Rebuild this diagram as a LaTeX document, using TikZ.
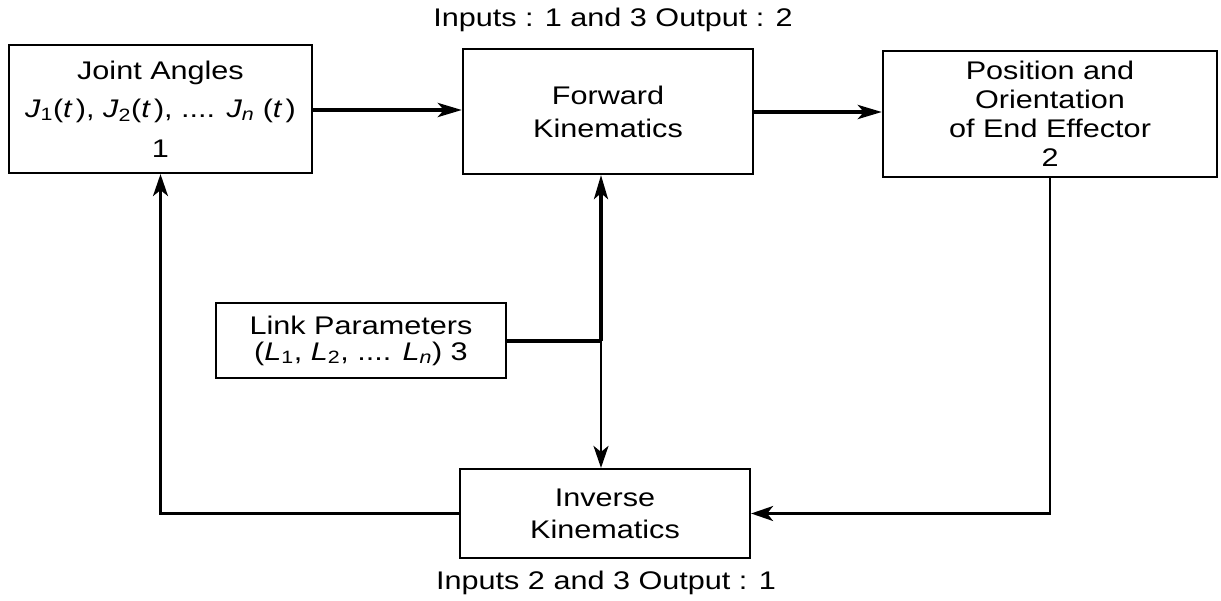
\documentclass[tikz,border=0pt]{standalone}
\usepackage{fontspec}
\setmainfont{Liberation Sans}[FakeStretch=1.2]
\usetikzlibrary{arrows.meta}

\tikzset{
  blk/.style={draw=black, line width=2.2pt, align=center, inner sep=0pt,
              font=\fontsize{25.5}{29}\selectfont},
  lbl/.style={inner sep=0pt, font=\fontsize{25.5}{29}\selectfont},
  flow/.style={line width=4pt, -{Stealth[length=24pt,width=14pt,inset=6pt]}},
  feed/.style={line width=2.5pt, -{Stealth[length=22pt,width=15pt,inset=6pt]}},
  bus/.style={line width=4pt},
}

\begin{document}
\begin{tikzpicture}[x=1pt, y=-1pt]
  \useasboundingbox (0,0) rectangle (1221,600);

  % blocks
  \node[blk, minimum width=303pt, minimum height=128pt] (joint) at (160.5,109)
    {Joint Angles\\[9pt]
     \textit{J}\textsubscript{1}(\textit{t\,}), \textit{J}\textsubscript{2}(\textit{t\,}), .... \textit{J\textsubscript{n}} (\textit{t\,})\\[11pt]
     1};
  \node[blk, minimum width=290pt, minimum height=125pt] (fwd) at (608,111.5)
    {Forward\\[4pt]Kinematics};
  \node[blk, minimum width=334pt, minimum height=126pt] (pose) at (1050,114)
    {Position and\\Orientation\\of End Effector\\2};
  \node[blk, minimum width=290pt, minimum height=75pt] (link) at (361,340.5)
    {Link Parameters\\[-3pt]
     (\textit{L}\textsubscript{1}, \textit{L}\textsubscript{2}, .... \textit{L\textsubscript{n}}) 3};
  \node[blk, minimum width=290pt, minimum height=89pt] (inv) at (605,513.5)
    {Inverse\\[3pt]Kinematics};

  % captions
  \node[lbl] (fcap) at (613,20) {Inputs : 1 and 3 Output : 2};
  \node[lbl] (icap) at (606,583) {Inputs 2 and 3 Output : 1};

  % junction where the link parameters meet the vertical bus
  \coordinate (jn) at (601,341);

  % forward chain
  \draw[flow] (joint.east |- 0,110) -- (fwd.west |- 0,110);
  \draw[flow] (fwd.east |- 0,112) -- (pose.west |- 0,112);

  % link parameters feed both kinematics blocks
  \draw[bus] (link.east |- jn) -- (jn);
  \draw[flow, line width=3.5pt] (jn) -- (jn |- fwd.south);
  \draw[feed] (jn) -- (jn |- inv.north);

  % feedback loops
  \draw[feed] (pose.south) |- (inv.east);
  \draw[feed] (inv.west) -| (joint.south);
\end{tikzpicture}
\end{document}
